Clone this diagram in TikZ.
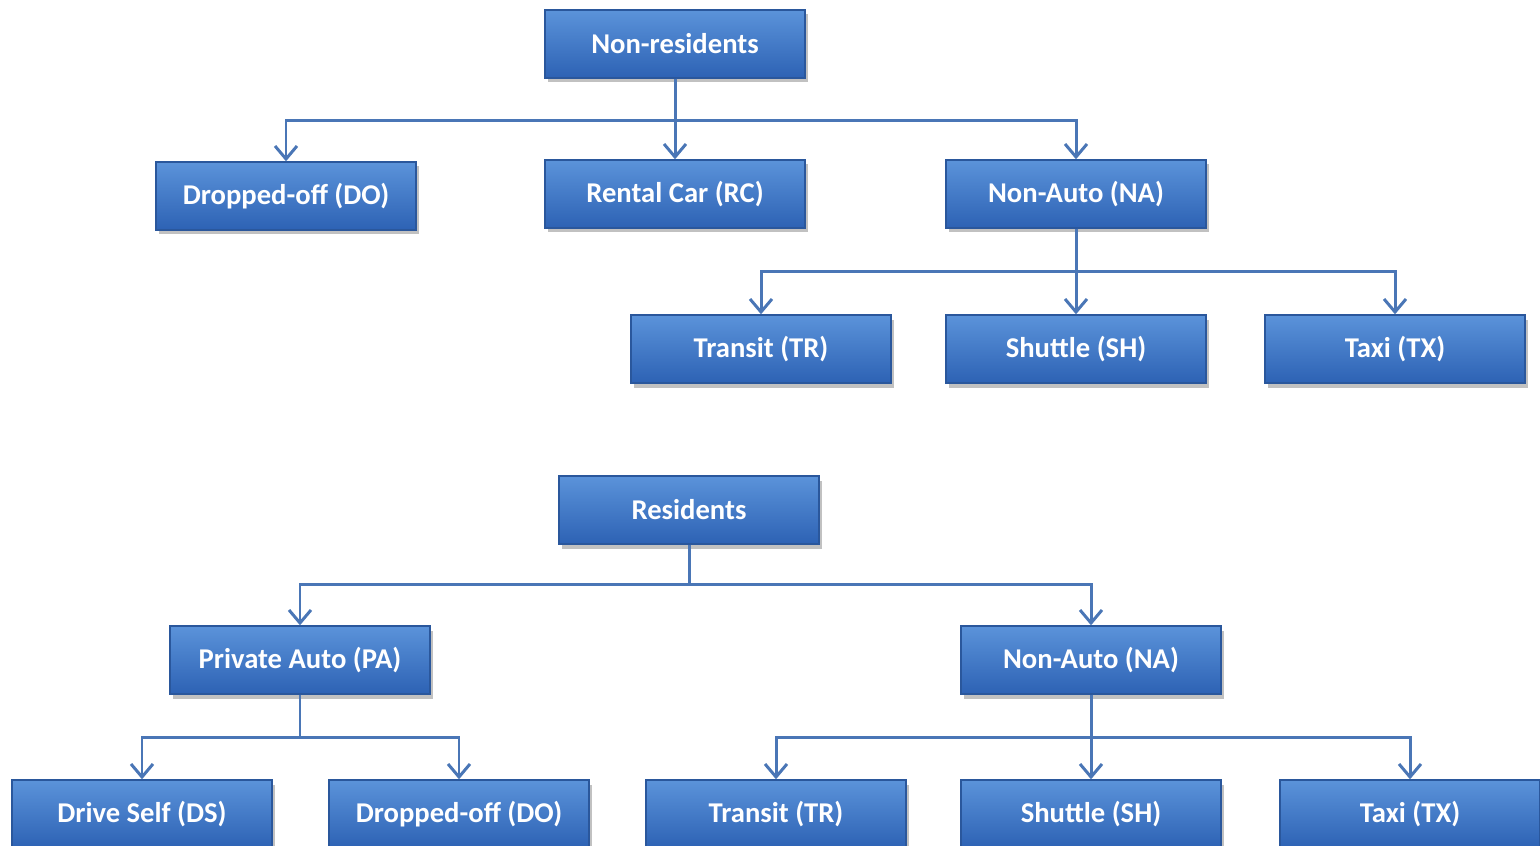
\documentclass[tikz,border=0pt]{standalone}
\usepackage{fontspec}
\setmainfont{Carlito}
\usepackage{tikz}
\usetikzlibrary{arrows.meta,shadows}

\definecolor{boxtop}{HTML}{5B93DA}
\definecolor{boxbot}{HTML}{2D62B4}
\definecolor{boxedge}{HTML}{2A579C}
\definecolor{linkcol}{HTML}{4A76B6}

\tikzset{
  modebox/.style={draw=boxedge, line width=0.8pt, top color=boxtop, bottom color=boxbot,
    minimum width=5.2cm, minimum height=1.36cm, text=white,
    font=\fontsize{16.3}{18}\selectfont\bfseries,
    drop shadow={shadow xshift=0.05cm, shadow yshift=-0.09cm, opacity=0.35, fill=black!70}},
  link/.style={draw=linkcol, line width=1.7pt, -{Straight Barb[length=0.26cm, width=0.44cm, line width=1.7pt]}}
}

\begin{document}
    \begin{tikzpicture}
      \useasboundingbox (0,0) rectangle (30.8,-16.92);
      \node[modebox] (nonres) at (13.5,-0.88) {Non-residents};
      \node[modebox] (do1) at (5.72,-3.92) {Dropped-off (DO)};
      \node[modebox] (rc) at (13.5,-3.88) {Rental Car (RC)};
      \node[modebox] (na1) at (21.52,-3.88) {Non-Auto (NA)};
      \node[modebox] (tr1) at (15.22,-6.98) {Transit (TR)};
      \node[modebox] (sh1) at (21.52,-6.98) {Shuttle (SH)};
      \node[modebox] (tx1) at (27.9,-6.98) {Taxi (TX)};

      \node[modebox] (res) at (13.78,-10.2) {Residents};
      \node[modebox] (pa) at (6.0,-13.2) {Private Auto (PA)};
      \node[modebox] (na2) at (21.82,-13.2) {Non-Auto (NA)};
      \node[modebox] (ds) at (2.84,-16.28) {Drive Self (DS)};
      \node[modebox] (do2) at (9.18,-16.28) {Dropped-off (DO)};
      \node[modebox] (tr2) at (15.52,-16.28) {Transit (TR)};
      \node[modebox] (sh2) at (21.82,-16.28) {Shuttle (SH)};
      \node[modebox] (tx2) at (28.2,-16.28) {Taxi (TX)};

      \draw[link] (nonres.south) -- ++(0,-0.84) -| (do1.north);
      \draw[link] (nonres.south) -- (rc.north);
      \draw[link] (nonres.south) -- ++(0,-0.84) -| (na1.north);

      \draw[link] (na1.south) -- ++(0,-0.86) -| (tr1.north);
      \draw[link] (na1.south) -- (sh1.north);
      \draw[link] (na1.south) -- ++(0,-0.86) -| (tx1.north);

      \draw[link] (res.south) -- ++(0,-0.8) -| (pa.north);
      \draw[link] (res.south) -- ++(0,-0.8) -| (na2.north);

      \draw[link] (pa.south) -- ++(0,-0.86) -| (ds.north);
      \draw[link] (pa.south) -- ++(0,-0.86) -| (do2.north);

      \draw[link] (na2.south) -- ++(0,-0.86) -| (tr2.north);
      \draw[link] (na2.south) -- (sh2.north);
      \draw[link] (na2.south) -- ++(0,-0.86) -| (tx2.north);
    \end{tikzpicture}
\end{document}
